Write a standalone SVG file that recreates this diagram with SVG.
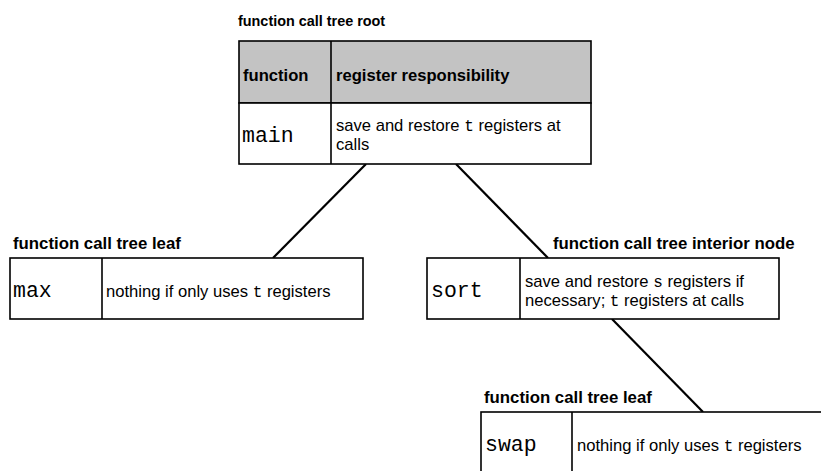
<svg xmlns="http://www.w3.org/2000/svg" width="821" height="471" viewBox="0 0 821 471">
  <style>
    .box { fill: #ffffff; stroke: #000000; stroke-width: 1.6; }
    .head { fill: #c3c3c3; stroke: #000000; stroke-width: 1.6; }
    .div { stroke: #000000; stroke-width: 1.6; }
    .edge { stroke: #000000; stroke-width: 2.2; fill: none; }
    .cap { font-family: "Liberation Sans", Arial, sans-serif; font-weight: bold; font-size: 16.8px; fill: #000; }
    .cap-sm { font-family: "Liberation Sans", Arial, sans-serif; font-weight: bold; font-size: 14.4px; fill: #000; }
    .hd { font-family: "Liberation Sans", Arial, sans-serif; font-weight: bold; font-size: 16.6px; fill: #000; }
    .fn { font-family: "Liberation Mono", "Courier New", monospace; font-size: 21.5px; fill: #000; }
    .txt { font-family: "Liberation Sans", Arial, sans-serif; font-size: 16.6px; fill: #000; }
    .mono { font-family: "Liberation Mono", "Courier New", monospace; font-size: 16px; }
  </style>

  <!-- call-tree edges -->
  <g id="connectors">
    <line class="edge" x1="366" y1="164" x2="273" y2="258"/>
    <line class="edge" x1="456" y1="164" x2="548" y2="258"/>
    <line class="edge" x1="612" y1="319" x2="703" y2="412"/>
  </g>

  <!-- root: main -->
  <g id="node-main">
    <text class="cap-sm" x="238" y="26">function call tree root</text>
    <rect class="head" x="239" y="41" width="352" height="62"/>
    <rect class="box" x="239" y="103" width="352" height="61"/>
    <line class="div" x1="331" y1="41" x2="331" y2="164"/>
    <text class="hd" x="243" y="81">function</text>
    <text class="hd" x="336" y="81">register responsibility</text>
    <text class="fn" x="242" y="142">main</text>
    <text class="txt" x="336" y="130.5">save and restore <tspan class="mono">t</tspan> registers at</text>
    <text class="txt" x="336" y="149.5">calls</text>
  </g>

  <!-- leaf: max -->
  <g id="node-max">
    <text class="cap" x="13" y="249">function call tree leaf</text>
    <rect class="box" x="10" y="258" width="353" height="61"/>
    <line class="div" x1="102" y1="258" x2="102" y2="319"/>
    <text class="fn" x="13" y="297">max</text>
    <text class="txt" x="106" y="297">nothing if only uses <tspan class="mono">t</tspan> registers</text>
  </g>

  <!-- interior: sort -->
  <g id="node-sort">
    <text class="cap" x="553" y="249">function call tree interior node</text>
    <rect class="box" x="427" y="258" width="352" height="61"/>
    <line class="div" x1="520" y1="258" x2="520" y2="319"/>
    <text class="fn" x="431" y="297">sort</text>
    <text class="txt" x="525" y="287">save and restore <tspan class="mono">s</tspan> registers if</text>
    <text class="txt" x="525" y="306">necessary; <tspan class="mono">t</tspan> registers at calls</text>
  </g>

  <!-- leaf: swap -->
  <g id="node-swap">
    <text class="cap" x="484" y="403">function call tree leaf</text>
    <rect class="box" x="481" y="412" width="360" height="62"/>
    <line class="div" x1="572" y1="412" x2="572" y2="474"/>
    <text class="fn" x="485" y="451">swap</text>
    <text class="txt" x="577" y="451">nothing if only uses <tspan class="mono">t</tspan> registers</text>
  </g>
</svg>
